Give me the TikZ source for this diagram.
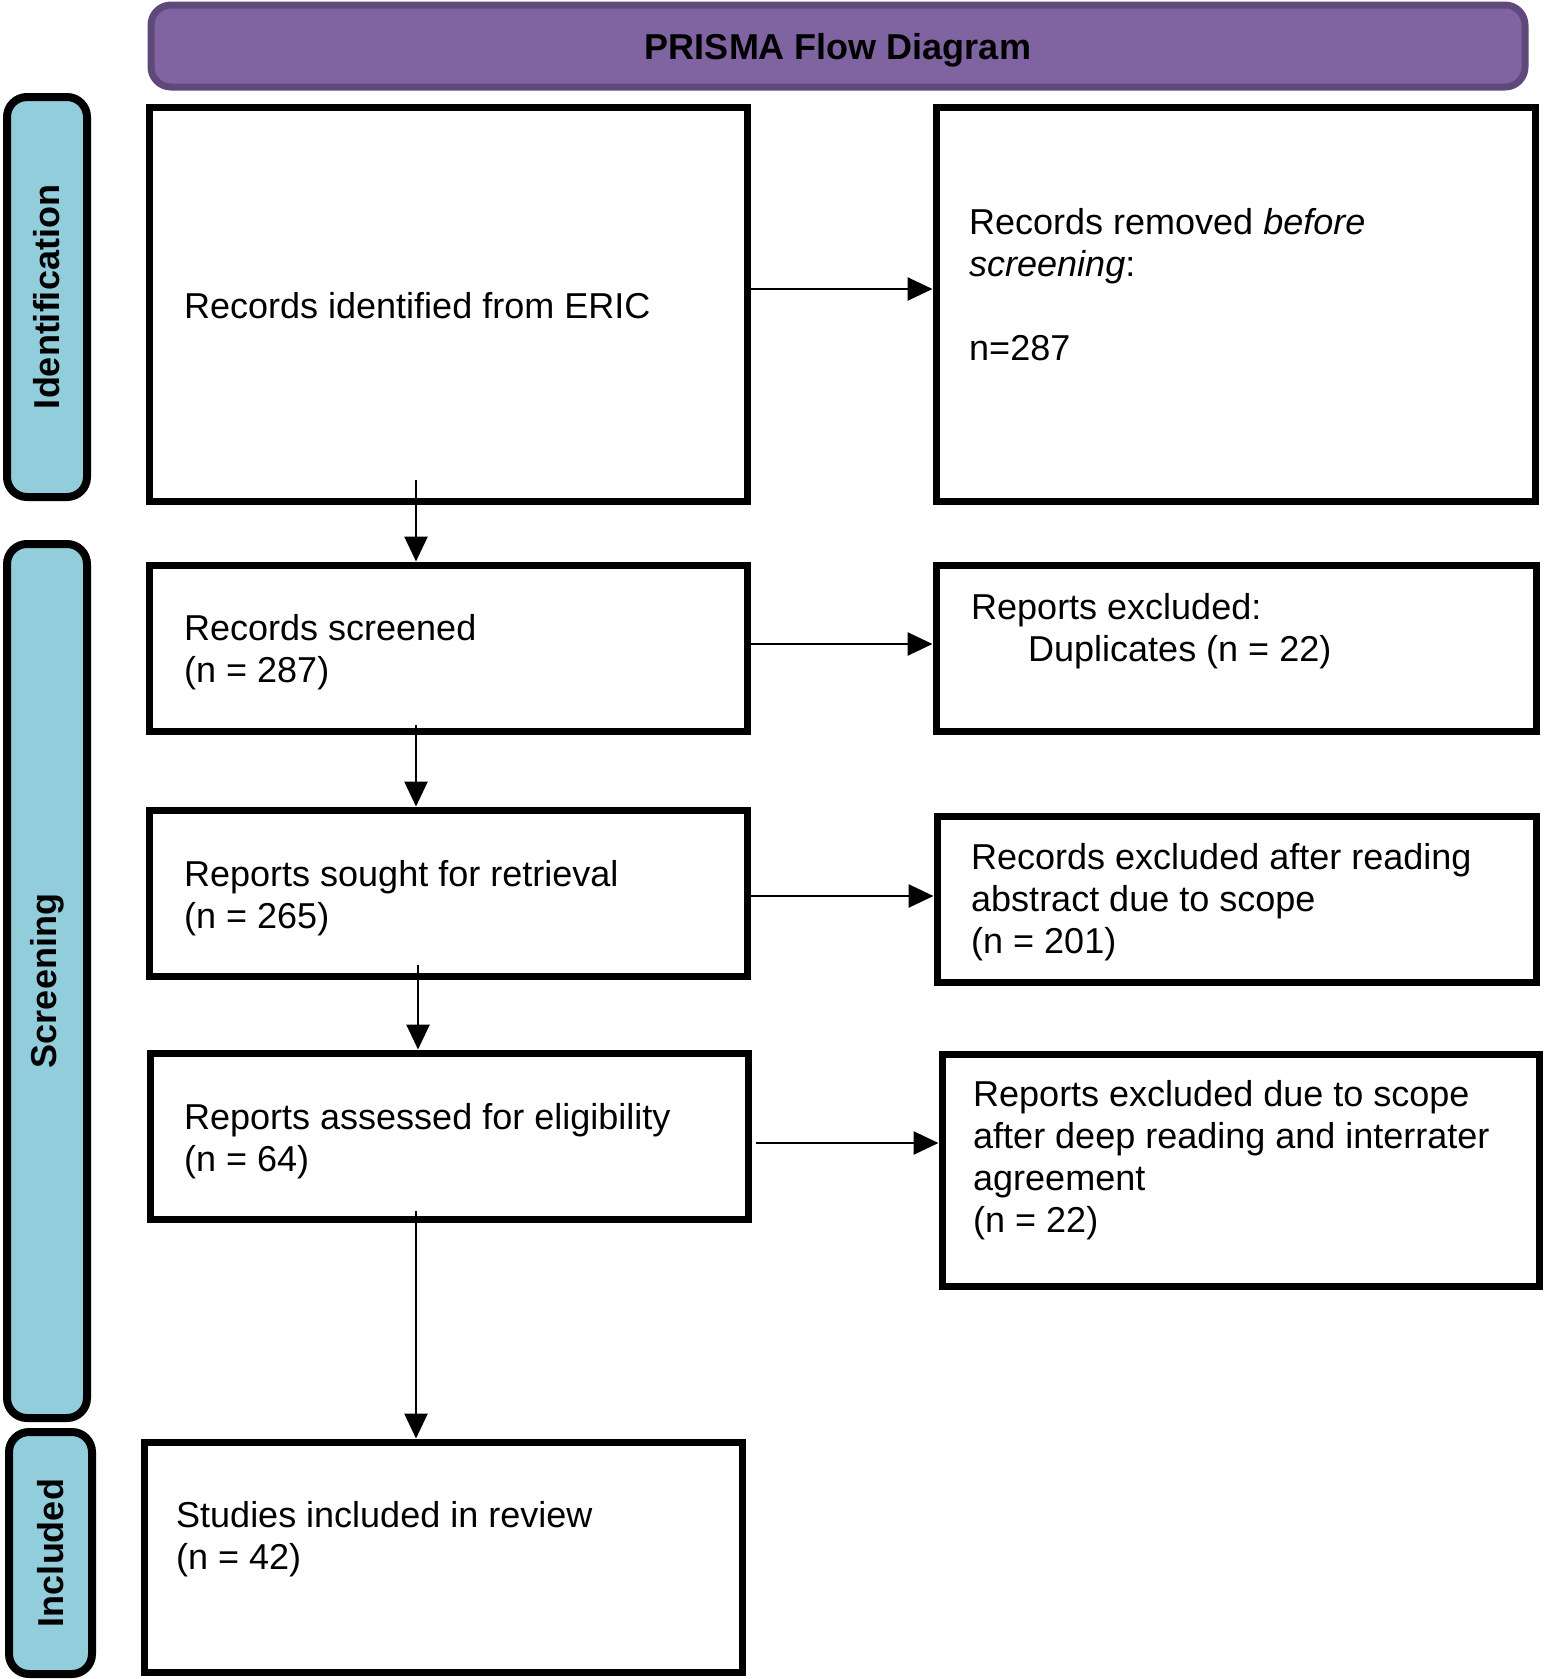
\documentclass[tikz,border=0pt]{standalone}
\usepackage{fontspec}
\setmainfont{Liberation Sans}
\usetikzlibrary{arrows.meta}
\definecolor{sidefill}{HTML}{92CDDC}
\definecolor{barfill}{HTML}{8064A2}
\definecolor{barline}{HTML}{5F497A}
\begin{document}
\begin{tikzpicture}[x=1pt,y=-1pt,
  boxst/.style={draw=black,line width=7pt,fill=white,inner sep=0pt,rectangle},
  sidest/.style={draw=black,line width=8pt,fill=sidefill,rounded corners=20pt,inner sep=0pt,rectangle},
  sidetxt/.style={font=\fontsize{36}{42}\selectfont\bfseries,rotate=90},
  txt/.style={font=\fontsize{36}{42}\selectfont,align=left,inner sep=0pt,anchor=north west},
  arr/.style={line width=2.7pt,-{Triangle[length=25pt,width=23pt]}}]
\useasboundingbox (0,0) rectangle (1546,1679);
% title bar
\node[draw=barline,line width=7pt,fill=barfill,rounded corners=20pt,minimum width=1374pt,minimum height=82pt,inner sep=0pt,font=\fontsize{36}{42}\selectfont\bfseries] (title) at (838,46) {\raisebox{-4pt}[\height][\depth]{PRISMA Flow Diagram}};
% side labels
\node[sidest,minimum width=80pt,minimum height=400pt] (sid) at (47,297) {};
\node[sidetxt] (sidt) at (sid.center) {Identification};
\node[sidest,minimum width=80pt,minimum height=874pt] (ssc) at (47,981) {};
\node[sidetxt] (ssct) at (ssc.center) {Screening};
\node[sidest,minimum width=83pt,minimum height=242pt] (sin) at (50.5,1553) {};
\node[sidetxt] (sint) at (sin.center) {Included};
% boxes
\node[boxst,minimum width=598pt,minimum height=394pt] (b1) at (448,304) {};
\node[boxst,minimum width=599pt,minimum height=394pt] (r1) at (1235.5,304) {};
\node[boxst,minimum width=598pt,minimum height=166pt] (b2) at (448,648) {};
\node[boxst,minimum width=600pt,minimum height=166pt] (r2) at (1236,648) {};
\node[boxst,minimum width=598pt,minimum height=166pt] (b3) at (448,893) {};
\node[boxst,minimum width=599pt,minimum height=166pt] (r3) at (1236.5,899) {};
\node[boxst,minimum width=598pt,minimum height=166pt] (b4) at (449,1136) {};
\node[boxst,minimum width=597pt,minimum height=232pt] (r4) at (1240.5,1170) {};
\node[boxst,minimum width=598pt,minimum height=230pt] (b5) at (443,1557) {};
% texts
\node[txt] (t1) at (184,292) {Records identified from ERIC};
\node[txt] (tr1) at (969,208) {Records removed \textit{before}\\ \textit{screening}:\\[42pt] n=287};
\node[txt] (t2) at (184,614) {Records screened\\ (n = 287)};
\node[txt] (tr2) at (971,593) {Reports excluded:\\ \hspace*{57pt}Duplicates (n = 22)};
\node[txt] (t3) at (184,860) {Reports sought for retrieval\\ (n = 265)};
\node[txt] (tr3) at (971,843) {Records excluded after reading\\ abstract due to scope\\ (n = 201)};
\node[txt] (t4) at (184,1103) {Reports assessed for eligibility\\ (n = 64)};
\node[txt] (tr4) at (973,1080) {Reports excluded due to scope\\ after deep reading and interrater\\ agreement\\ (n = 22)};
\node[txt] (t5) at (176,1501) {Studies included in review\\ (n = 42)};
% horizontal arrows
\draw[arr] ([yshift=15pt]b1.east) -- ([yshift=15pt]b1.east -| r1.west);
\draw[arr] ([yshift=4pt]b2.east) -- ([yshift=4pt]b2.east -| r2.west);
\draw[arr] ([yshift=-3pt]b3.east) -- ([yshift=-3pt]b3.east -| r3.west);
\draw[arr] ([xshift=4pt,yshift=-7pt]b4.east) -- ([yshift=-7pt]b4.east -| r4.west);
% vertical arrows
\coordinate (c1) at (416,480);
\coordinate (c2) at (416,725);
\coordinate (c3) at (418,965);
\coordinate (c4) at (416,1211);
\draw[arr] (c1) -- (c1 |- b2.north);
\draw[arr] (c2) -- (c2 |- b3.north);
\draw[arr] (c3) -- (c3 |- b4.north);
\draw[arr] (c4) -- (c4 |- b5.north);
\end{tikzpicture}
\end{document}
